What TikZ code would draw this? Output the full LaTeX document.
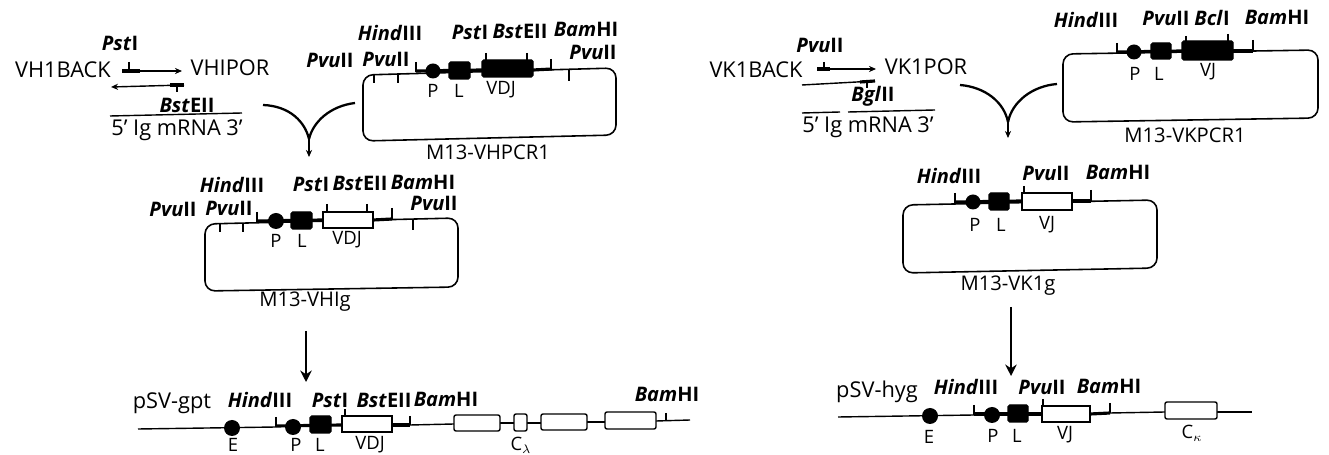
\documentclass[tikz,border=0pt]{standalone}
\usepackage{fontspec}
\setmainfont{Open Sans}
\usepackage{tikz}
\usetikzlibrary{arrows.meta}

\tikzset{
  lab/.style={inner sep=0pt,font=\fontsize{11.5}{13}\selectfont},
  primer/.style={inner sep=0pt,font=\fontsize{12.4}{14}\selectfont},
  part/.style={inner sep=0pt,font=\fontsize{10.5}{12}\selectfont},
  enz/.style={inner sep=0pt,font=\fontsize{11.4}{13}\selectfont\bfseries},
  tick/.style={line width=0.7pt},
  back/.style={line width=0.8pt},
  fat/.style={line width=1.8pt},
  vector/.style={line width=0.9pt,rounded corners=0.2cm},
  blackseg/.style={fill=black,draw=black,line width=0.6pt,rounded corners=0.03cm},
  whiteseg/.style={fill=white,draw=black,line width=1.5pt},
  exon/.style={fill=white,draw=black,line width=0.8pt,rounded corners=0.04cm},
  longarrow/.style={line width=0.9pt,-{Stealth[length=6.5pt,width=6.5pt]}},
}

\begin{document}
\begin{tikzpicture}[x=0.02cm,y=-0.02cm,>={Stealth[length=4pt,width=3.5pt]}]
\useasboundingbox (0,0) rectangle (1329,455);
% heavy chain, PCR step
\coordinate (ha) at (125,71);
\coordinate (hb) at (182,71);
\coordinate (hc) at (184,85);
\coordinate (hd) at (111,87);
\draw[back,->] (ha) -- (hb);
\draw[fat] (122,71) -- (140,71);
\draw[tick] (129,62) -- (129,71);
\draw[back,->] (hc) -- (hd);
\draw[fat] (170,85) -- (184,85);
\draw[tick] (177,85) -- (177,92);
\draw[back] (110,116) -- (242,113);
\node[enz] (pst0) at (120,43) {\textit{Pst}I};
\node[primer] (vhback) at (63,70) {VH1BACK};
\node[primer] (vhfor) at (230,68) {VHIPOR};
\node[enz] (bst0) at (187,105) {\textit{Bst}EII};
\node[primer] (mrnaH) at (177,130) {5' Ig mRNA 3'};
% heavy chain, M13-VHPCR1
\coordinate (joinH) at (309,139);
\coordinate (tipH) at (309,157);
\draw[line width=1.3pt] (263,105) .. controls (290,106) and (305,122) .. (joinH);
\draw[line width=1.3pt] (355,103) .. controls (330,106) and (313,122) .. (joinH);
\draw[back,->] (joinH) -- (tipH);
\draw[vector] (363,75) -- (616,68) -- (616,135) -- (363,141) -- cycle;
\draw[tick] (374,74) -- (374,83);
\draw[tick] (398,73) -- (398,83);
\draw[tick] (416,62) -- (416,72);
\draw[fat] (416,71) -- (482,70);
\fill (433,71) circle (7.5);
\draw[blackseg] (449,62) rectangle (470,79);
\draw[blackseg] (482,60) rectangle (533,77);
\draw[tick] (486,53) -- (486,60);
\draw[tick] (527,53) -- (527,60);
\draw[fat] (533,70) -- (552,69);
\draw[tick] (551,59) -- (551,69);
\draw[tick] (569,69) -- (569,81);
\node[enz] (pvu1) at (330,60) {\textit{Pvu}II};
\node[enz] (pvu2) at (386,59) {\textit{Pvu}II};
\node[enz] (hind1) at (390,33) {\textit{Hind}III};
\node[enz] (pst1) at (470,32) {\textit{Pst}I};
\node[enz] (bst1) at (520,31) {\textit{Bst}EII};
\node[enz] (bam1) at (586,29) {\textit{Bam}HI};
\node[enz] (pvu3) at (593,52) {\textit{Pvu}II};
\node[part] (p1) at (433,91) {P};
\node[part] (l1) at (459,91) {L};
\node[part] (vdj1) at (501,90) {VDJ};
\node[lab] (m13a) at (488,152) {M13-VHPCR1};
% heavy chain, M13-VHIg
\draw[vector] (205,224) -- (458,218) -- (458,287) -- (205,291) -- cycle;
\draw[tick] (220,223) -- (220,232);
\draw[tick] (243,223) -- (243,232);
\draw[tick] (257,212) -- (257,222);
\draw[fat] (257,221) -- (323,220);
\fill (276,221) circle (8);
\draw[blackseg] (291,212) rectangle (312,229);
\draw[whiteseg] (323,212) rectangle (373,228);
\draw[tick] (327,204) -- (327,212);
\draw[tick] (367,204) -- (367,212);
\draw[fat] (373,220) -- (392,219);
\draw[tick] (392,208) -- (392,219);
\draw[tick] (413,219) -- (413,230);
\node[enz] (pvu4) at (173,209) {\textit{Pvu}II};
\node[enz] (pvu5) at (229,208) {\textit{Pvu}II};
\node[enz] (hind2) at (232,185) {\textit{Hind}III};
\node[enz] (pst2) at (311,184) {\textit{Pst}I};
\node[enz] (bst2) at (360,183) {\textit{Bst}EII};
\node[enz] (bam2) at (423,182) {\textit{Bam}HI};
\node[enz] (pvu6) at (434,203) {\textit{Pvu}II};
\node[part] (p2) at (276,241) {P};
\node[part] (l2) at (302,241) {L};
\node[part] (vdj2) at (347,240) {VDJ};
\node[lab] (m13b) at (305,302) {M13-VHIg};
\coordinate (fromH) at (306,331);
\coordinate (toH) at (306,382);
\draw[longarrow] (fromH) -- (toH);
% heavy chain, pSV-gpt
\draw[back] (138,429) -- (276,427);
\draw[back] (410,425) -- (454,424);
\draw[back] (500,423) -- (514,423);
\draw[back] (527,423) -- (541,423);
\draw[back] (587,422) -- (605,422);
\draw[back] (656,421) -- (690,420);
\fill (232,428) circle (8);
\draw[tick] (276,417) -- (276,427);
\draw[fat] (276,426) -- (342,425);
\fill (293,427) circle (8);
\draw[blackseg] (310,416) rectangle (331,433);
\draw[whiteseg] (342,416) rectangle (392,432);
\draw[tick] (345,409) -- (345,416);
\draw[fat] (392,425) -- (410,425);
\draw[tick] (410,416) -- (410,425);
\draw[exon] (454,415) rectangle (500,431);
\draw[exon] (514,414) rectangle (527,431);
\draw[exon] (541,414) rectangle (587,430);
\draw[exon] (605,412) rectangle (656,429);
\draw[tick] (666,413) -- (666,420);
\node[primer] (gpt) at (172,403) {pSV-gpt};
\node[enz] (hind3) at (260,400) {\textit{Hind}III};
\node[enz] (pst3) at (330,400) {\textit{Pst}I};
\node[enz] (bst3) at (384,400) {\textit{Bst}EII};
\node[enz] (bam3) at (446,399) {\textit{Bam}HI};
\node[enz] (bam4) at (667,394) {\textit{Bam}HI};
\node[part] (e3) at (233,445) {E};
\node[part] (p3) at (296,445) {P};
\node[part] (l3) at (320,445) {L};
\node[part] (vdj3) at (370,445) {VDJ};
\node[part] (cl) at (521,445) {C$_\lambda$};
% light chain, PCR step
\coordinate (ka) at (817,69);
\coordinate (kb) at (876,69);
\coordinate (kc) at (875,81);
\coordinate (kd) at (802,85);
\draw[back,->] (ka) -- (kb);
\draw[fat] (817,69) -- (830,69);
\draw[tick] (824,62) -- (824,69);
\draw[back] (kc) -- (kd);
\draw[fat] (860,82) -- (875,81);
\draw[tick] (867,81) -- (867,88);
\draw[back] (802,113) -- (840,112);
\draw[back] (848,112) -- (935,110);
\node[enz] (pvu7) at (820,45) {\textit{Pvu}II};
\node[primer] (vkback) at (756,70) {VK1BACK};
\node[primer] (vkfor) at (926,67) {VK1POR};
\node[enz] (bgl0) at (873,96) {\textit{Bgl}II};
\node[primer] (mrnaK) at (868,127) {5' Ig mRNA 3'};
% light chain, M13-VKPCR1
\coordinate (joinK) at (1008,122);
\coordinate (tipK) at (1008,138);
\draw[line width=1.3pt] (960,85) .. controls (985,87) and (1004,102) .. (joinK);
\draw[line width=1.3pt] (1057,84) .. controls (1032,86) and (1012,102) .. (joinK);
\draw[back,->] (joinK) -- (tipK);
\draw[vector] (1063,54) -- (1318,50) -- (1318,118) -- (1063,122) -- cycle;
\draw[tick] (1117,43) -- (1117,53);
\draw[fat] (1117,52) -- (1182,51);
\fill (1134,52) circle (7.5);
\draw[blackseg] (1151,43) rectangle (1171,59);
\draw[blackseg] (1182,41) rectangle (1233,60);
\draw[tick] (1186,36) -- (1186,41);
\draw[tick] (1228,34) -- (1228,41);
\draw[fat] (1233,51) -- (1253,51);
\draw[tick] (1253,40) -- (1253,51);
\node[enz] (hind4) at (1086,20) {\textit{Hind}III};
\node[enz] (pvu8) at (1166,18) {\textit{Pvu}II};
\node[enz] (bcl1) at (1212,18) {\textit{Bcl}I};
\node[enz] (bam5) at (1277,17) {\textit{Bam}HI};
\node[part] (p4) at (1135,74) {P};
\node[part] (l4) at (1159,74) {L};
\node[part] (vj4) at (1208,72) {VJ};
\node[lab] (m13c) at (1185,135) {M13-VKPCR1};
% light chain, M13-VK1g
\draw[vector] (903,205) -- (1157,200) -- (1157,268) -- (903,273) -- cycle;
\draw[tick] (955,193) -- (955,203);
\draw[fat] (955,202) -- (1022,201);
\fill (973,202) circle (7.5);
\draw[blackseg] (989,193) rectangle (1009,210);
\draw[whiteseg] (1022,193) rectangle (1072,210);
\draw[tick] (1024,186) -- (1024,193);
\draw[fat] (1072,201) -- (1091,201);
\draw[tick] (1091,190) -- (1091,201);
\node[enz] (hind5) at (949,176) {\textit{Hind}III};
\node[enz] (pvu9) at (1046,173) {\textit{Pvu}II};
\node[enz] (bam6) at (1118,172) {\textit{Bam}HI};
\node[part] (p5) at (975,225) {P};
\node[part] (l5) at (1001,225) {L};
\node[part] (vj5) at (1047,225) {VJ};
\node[lab] (m13d) at (1008,286) {M13-VK1g};
\coordinate (fromK) at (1011,307);
\coordinate (toK) at (1011,376);
\draw[longarrow] (fromK) -- (toK);
% light chain, pSV-hyg
\draw[back] (838,417) -- (974,415);
\draw[back] (1110,413) -- (1165,412);
\draw[back] (1217,412) -- (1252,412);
\fill (930,416) circle (8);
\draw[tick] (974,405) -- (974,415);
\draw[fat] (974,414) -- (1042,414);
\fill (992,415) circle (8);
\draw[blackseg] (1008,405) rectangle (1028,422);
\draw[whiteseg] (1042,406) rectangle (1090,422);
\draw[tick] (1043,399) -- (1043,406);
\draw[fat] (1090,414) -- (1110,413);
\draw[tick] (1110,403) -- (1110,413);
\draw[exon] (1165,402) rectangle (1217,419);
\node[primer] (hyg) at (877,392) {pSV-hyg};
\node[enz] (hind6) at (966,387) {\textit{Hind}III};
\node[enz] (pvu10) at (1042,387) {\textit{Pvu}II};
\node[enz] (bam7) at (1109,386) {\textit{Bam}HI};
\node[part] (e6) at (929,437) {E};
\node[part] (p6) at (993,436) {P};
\node[part] (l6) at (1017,436) {L};
\node[part] (vj6) at (1065,435) {VJ};
\node[part] (ck) at (1192,433) {C$_\kappa$};
\end{tikzpicture}
\end{document}
